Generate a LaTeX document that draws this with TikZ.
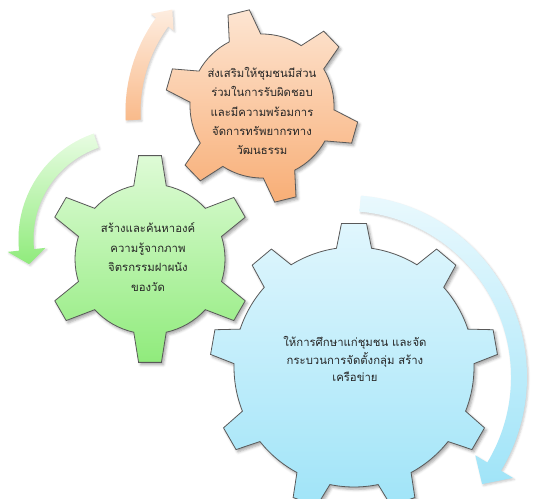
\documentclass[tikz,border=0pt]{standalone}
\usepackage{fontspec}
\newfontfamily\thaifont[Script=Thai]{Loma}
\usetikzlibrary{shadows.blur}

\definecolor{orangeTop}{HTML}{FDE5D2}
\definecolor{orangeBottom}{HTML}{F8AE76}
\definecolor{greenTop}{HTML}{DEFBD6}
\definecolor{greenBottom}{HTML}{90EB7C}
\definecolor{blueTop}{HTML}{E0F6FD}
\definecolor{blueBottom}{HTML}{A0E4F8}

% gear: style, centre, teeth, offset, body radius, tip radius, base half angle, tip half angle
\newcommand{\gearpath}[8]{%
  \path[#1, shift={#2}] ({#4-#7}:#5)
    \foreach \k in {1,...,#3} {
      -- ({#4+(\k-1)*360/#3-#8}:#6) -- ({#4+(\k-1)*360/#3+#8}:#6)
      -- ({#4+(\k-1)*360/#3+#7}:#5)
      arc[start angle={#4+(\k-1)*360/#3+#7}, end angle={#4+\k*360/#3-#7}, radius=#5]
    } -- cycle;}

% curved block arrow: style, centre, mid radius, half band, half head, tail angle, head base angle, tip angle
\newcommand{\arcarrow}[8]{%
  \path[#1, shift={#2}] (#6:{#3+#4})
    arc[start angle=#6, end angle=#7, radius={#3+#4}]
    -- (#7:{#3+#5}) -- (#8:#3) -- (#7:{#3-#5}) -- (#7:{#3-#4})
    arc[start angle=#7, end angle=#6, radius={#3-#4}] -- cycle;}

\begin{document}
\begin{tikzpicture}[x=0.75pt, y=0.75pt,
    gear/.style = {draw=black!65, line width=0.6pt,
                   blur shadow={shadow xshift=1.5pt, shadow yshift=-1.8pt,
                                shadow blur radius=2pt, shadow opacity=35}},
    turnarrow/.style = {blur shadow={shadow xshift=1pt, shadow yshift=-1.2pt,
                                shadow blur radius=1.5pt, shadow opacity=20}},
    gearlabel/.style = {align=center, text=black!85,
                        font=\thaifont\fontsize{8.5}{14.6}\selectfont}]
  \clip (0, 0) rectangle (533, -499);

  % Arrows.
  \arcarrow{turnarrow, top color=orangeTop!70!white, bottom color=orangeBottom!85}{(286, -112)}{153}{7.5}{14}{183}{144}{138}
  \arcarrow{turnarrow, top color=greenTop!70!white, bottom color=greenBottom}{(130, -239)}{104}{7.5}{19}{109}{186}{194}
  \arcarrow{turnarrow, top color=blueTop!70!white, bottom color=blueBottom}{(345, -377)}{174}{8}{22}{85}{-31}{-38}

  % Gears.
  \gearpath{gear, top color=orangeTop, bottom color=orangeBottom}{(262, -106)}{6}{104}{72}{97}{13}{6.5}
  \gearpath{gear, top color=greenTop, bottom color=greenBottom}{(150, -259)}{6}{90}{75}{104}{12.5}{6.3}
  \gearpath{gear, top color=blueTop, bottom color=blueBottom}{(354, -367)}{9}{90}{120}{144}{8.4}{5}

  % Labels.
  \node at (262, -111) [gearlabel, name=Heritage] {ส่งเสริมให้ชุมชนมีส่วน\\ร่วมในการรับผิดชอบ\\และมีความพร้อมการ\\จัดการทรัพยากรทาง\\วัฒนธรรม};
  \node at (148, -257) [gearlabel, name=Murals] {สร้างและค้นหาองค์\\ความรู้จากภาพ\\จิตรกรรมฝาผนัง\\ของวัด};
  \node at (355, -359) [gearlabel, font=\thaifont\fontsize{8.5}{13.1}\selectfont, name=Network] {ให้การศึกษาแก่ชุมชน และจัด\\กระบวนการจัดตั้งกลุ่ม สร้าง\\เครือข่าย};
\end{tikzpicture}
\end{document}
